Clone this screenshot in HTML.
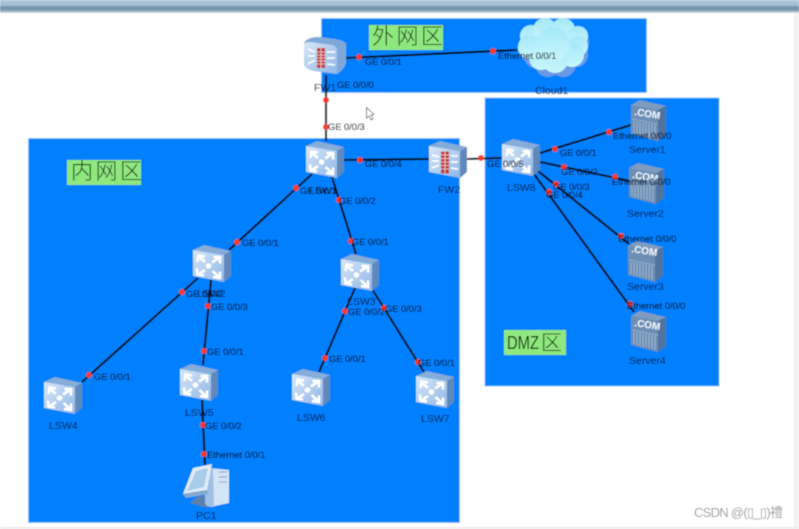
<!DOCTYPE html>
<html><head><meta charset="utf-8"><style>
html,body{margin:0;padding:0;background:#fff;width:799px;height:529px;overflow:hidden}
svg{display:block;position:absolute;left:0;top:0}
.t{font-family:"Liberation Sans",sans-serif;font-size:9.3px;fill:#050d1f;stroke:#050d1f;stroke-width:.12}
.d{font-family:"Liberation Sans",sans-serif;font-size:10.5px;fill:#08234f;stroke:#08234f;stroke-width:.1}
.c{font-family:"Noto Sans CJK SC","WenQuanYi Zen Hei",sans-serif;font-size:22px;fill:#111c11;font-weight:300}
.com{font-family:"Liberation Sans",sans-serif;font-size:10px;font-weight:bold;fill:#f2f7fc}
</style></head><body>
<svg width="799" height="529" viewBox="0 0 799 529" xmlns="http://www.w3.org/2000/svg">
<defs>
<filter id="b" x="-2%" y="-2%" width="104%" height="104%"><feGaussianBlur stdDeviation="0.4"/></filter>
<linearGradient id="bar" x1="0" y1="0" x2="0" y2="1"><stop offset="0" stop-color="#aac6d8"/><stop offset=".4" stop-color="#a6c0d2"/><stop offset=".55" stop-color="#6f90a8"/><stop offset=".8" stop-color="#7f9db3"/><stop offset="1" stop-color="#dfe8ee"/></linearGradient>
<linearGradient id="front" x1="0" y1="0" x2="1" y2="1"><stop offset="0" stop-color="#d6e7f9"/><stop offset="1" stop-color="#8fb6e6"/></linearGradient>
<linearGradient id="cl" x1="0" y1="0" x2="0" y2="1"><stop offset="0" stop-color="#a4e8f8"/><stop offset="1" stop-color="#c8f7fb"/></linearGradient>
<symbol id="sw" viewBox="0 0 38 37" width="38" height="37" overflow="visible">
<polygon points="0,5 11,0 38,6 31,10" fill="#86acd8"/>
<polygon points="31,10 38,6 38,31 31,37" fill="#5f89bd"/>
<polygon points="0,5 31,10 31,37 0,31" fill="url(#front)"/>
<circle cx="15.500" cy="21" r="2.800" fill="#fff"/>
<g stroke="#fff" stroke-width="2.600" fill="none">
<path d="M5,11 L12,17 M4.500,17 L5.500,10.500 L12,11.500"/>
<path d="M27,12 L19,17.500 M20.500,12 L27,12 L27,18.500"/>
<path d="M4.500,30 L12,25 M4,23.500 L4.500,29.500 L11,30.500"/>
<path d="M27,33 L19.500,26 M27,26.500 L27,33 L20,32"/>
</g>
</symbol>
<symbol id="fw" viewBox="0 0 38 37" width="38" height="37" overflow="visible">
<polygon points="0,5 11,0 38,6 31,10" fill="#86acd8"/>
<polygon points="31,10 38,6 38,31 31,37" fill="#5f89bd"/>
<polygon points="0,5 31,10 31,37 0,31" fill="url(#front)"/>
<rect x="12" y="10.500" width="8" height="22" fill="#c23b3b"/>
<path d="M12,14 H20 M12,17.500 H20 M12,21 H20 M12,24.500 H20 M12,28 H20 M16,10.500 V32.500" stroke="#f0d8d8" stroke-width=".8"/>
<g stroke="#fff" stroke-width="1.700"><path d="M3,14 L10,16 M3,20 L10,20 M3,27 L10,24 M22,15 L29,15 M22,21 L29,21 M22,27 L29,28"/></g>
</symbol>
<symbol id="fw1" viewBox="0 0 42 38" width="42" height="38" overflow="visible">
<path d="M0,8 Q0,3 7,1 Q12,-1 24,1 Q36,2 42,6 V26 Q40,33 33,37 L10,34 Q2,32 0,28 Z" fill="#7fa8da"/>
<path d="M0,8 Q0,5 6,5 L28,8 Q33,9 33,14 V37 L10,34 Q1,32 0,27 Z" fill="url(#front)"/>
<rect x="13" y="11" width="8" height="20" fill="#c23b3b"/>
<path d="M13,15 H21 M13,18 H21 M13,21 H21 M13,24 H21 M13,27 H21 M17,11 V31" stroke="#f0d8d8" stroke-width=".8"/>
<g stroke="#fff" stroke-width="1.600"><path d="M4,12 L11,15 M4,19 L11,19 M4,27 L11,23 M23,15 L31,15 M23,21 L31,21 M23,27 L31,28"/></g>
</symbol>
<symbol id="srv" viewBox="0 0 35 41" width="35" height="41" overflow="visible">
<polygon points="0,5 9,0 35,6 27,10" fill="#7f9cbf"/>
<polygon points="27,10 35,6 35,35 27,41" fill="#4f759f"/>
<polygon points="0,5 27,10 27,41 0,34" fill="#6d8fb5"/>
<g stroke="#9db5cf" stroke-width="1.100"><path d="M3,21 V33 M6,21.500 V34 M9,22 V35 M12,22.500 V36 M15,23 V36 M18,23.500 V37 M21,24 V38 M24,24.500 V39"/></g>
<path d="M1,19 L27,24" stroke="#9db5cf" stroke-width=".8"/>
</symbol>
</defs>
<g filter="url(#b)">
<rect x="0" y="0" width="799" height="529" fill="#fff"/>
<rect x="0" y="0" width="799" height="13" fill="url(#bar)"/>
<rect x="794" y="13" width="5" height="516" fill="#f2f2f2"/>
<rect x="0" y="527" width="799" height="2" fill="#ececec"/>

<g fill="#0080ff" stroke="#6fbaff" stroke-width=".8">
<rect x="321.500" y="18.500" width="325" height="74"/>
<rect x="485" y="98" width="234" height="288"/>
<rect x="28.500" y="138.500" width="431" height="384"/>
</g>

<rect x="369" y="25" width="74" height="25" fill="#8ee87e"/>
<text class="c" x="372" y="44" letter-spacing="2.500">外网区</text>
<rect x="67" y="160" width="74" height="25" fill="#8ee87e"/>
<text class="c" x="71" y="179" letter-spacing="2.500">内网区</text>
<rect x="504" y="330" width="62" height="25" fill="#8ee87e"/>
<text x="507" y="349" font-family="Liberation Sans,sans-serif" font-size="18px" fill="#0c1c0c" textLength="32" lengthAdjust="spacingAndGlyphs">DMZ</text>
<text class="c" x="541" y="350" style="font-size:21px">区</text>

<g stroke="#050a12" stroke-width="2.100" fill="none">
<path d="M326,75 V141"/>
<path d="M346,58 L517,50"/>
<path d="M344,160 L429,159"/>
<path d="M467,159 L502,158"/>
<path d="M312,174 L229,250"/>
<path d="M332,177 L356,254"/>
<path d="M198,278 L82,382"/>
<path d="M211,280 L203,365"/>
<path d="M355,288 L319,372"/>
<path d="M372,289 L424,372"/>
<path d="M202,400 L205,465"/>
<path d="M540,153 L631,125"/>
<path d="M540,162 L630,181"/>
<path d="M538,171 L629,244"/>
<path d="M534,174 L634,312"/>
</g>

<use href="#fw1" x="304" y="37"/>
<use href="#sw" x="306" y="141"/>
<use href="#sw" x="193" y="245"/>
<use href="#sw" x="341" y="254"/>
<use href="#sw" x="44" y="377"/>
<use href="#sw" x="180" y="364"/>
<use href="#sw" x="292" y="369"/>
<use href="#sw" x="416" y="371"/>
<use href="#sw" x="502" y="139"/>
<use href="#fw" x="429" y="141"/>

<g fill="#6a9ae6">
<circle cx="533" cy="48" r="15"/><circle cx="535" cy="58" r="10"/><circle cx="548" cy="64" r="13"/><circle cx="563" cy="64" r="13"/><circle cx="576" cy="55" r="12"/><circle cx="580" cy="42" r="9"/>
</g>
<g fill="url(#cl)">
<circle cx="531" cy="36" r="11"/><circle cx="545" cy="30" r="12"/><circle cx="563" cy="30" r="12"/><circle cx="578" cy="36" r="10"/><circle cx="578" cy="46" r="10"/><circle cx="572" cy="55" r="12"/><circle cx="555" cy="60" r="13"/><circle cx="541" cy="58" r="12"/><circle cx="530" cy="47" r="12"/><circle cx="553" cy="44" r="17"/>
</g>

<use href="#srv" x="631" y="100"/>
<text class="com" transform="translate(634,115) rotate(9)" textLength="26">.COM</text>
<use href="#srv" x="629" y="163"/>
<text class="com" transform="translate(632,178) rotate(9)" textLength="26">.COM</text>
<use href="#srv" x="628" y="241"/>
<text class="com" transform="translate(631,252) rotate(9)" textLength="26">.COM</text>
<use href="#srv" x="631" y="311"/>
<text class="com" transform="translate(634,326) rotate(9)" textLength="26">.COM</text>

<g>
<polygon points="210,468 229,470 229,503 210,507" fill="#d3e4f5"/>
<polygon points="205,469 213,468 214,507 205,506" fill="#9fc0e2"/>
<path d="M219,472 H227 M219,477 H227 M219,482 H227" stroke="#7ea2c8" stroke-width="1"/>
<polygon points="193,468 212,464 207,490 183,494" fill="#e0ecf8"/>
<polygon points="196,471 208,468 204,487 187,491" fill="#a8cbe8"/>
<polygon points="183,494 207,490 208,494 186,498" fill="#86a9cd"/>
<polygon points="197,497 204,495 205,503 208,508 190,503" fill="#5c80ac"/>
</g>

<path d="M366.500,107.500 V118 L369,116 L371,120 L373,119 L371,115 L374,114.500 Z" fill="#fff" stroke="#333" stroke-width=".7"/>

<g fill="#f23c2e">
<circle cx="359" cy="57" r="3"/><circle cx="493" cy="51" r="3"/><circle cx="326" cy="100" r="3"/><circle cx="326" cy="127" r="3"/>
<circle cx="360" cy="160" r="3"/><circle cx="296" cy="188" r="3"/><circle cx="339" cy="200" r="3"/><circle cx="237" cy="242" r="3"/>
<circle cx="351" cy="241" r="3"/><circle cx="182" cy="292" r="3"/><circle cx="208" cy="306" r="3"/><circle cx="204" cy="351" r="3"/>
<circle cx="89" cy="375" r="3"/><circle cx="203" cy="425" r="3"/><circle cx="204" cy="454" r="3"/><circle cx="345" cy="311" r="3"/>
<circle cx="384" cy="308" r="3"/><circle cx="325" cy="358" r="3"/><circle cx="418" cy="362" r="3"/><circle cx="481" cy="158" r="3"/>
<circle cx="555" cy="149" r="3"/><circle cx="609" cy="132" r="3"/><circle cx="564" cy="167" r="3"/><circle cx="615" cy="177" r="3"/>
<circle cx="556" cy="184" r="3"/><circle cx="549" cy="192" r="3"/><circle cx="621" cy="236" r="3"/><circle cx="630" cy="304" r="3"/>
</g>

<text class="d" x="314" y="91">FW1</text>
<text class="d" x="309" y="194">LSW1</text>
<text class="d" x="197" y="297">LSW2</text>
<text class="d" x="347" y="305">LSW3</text>
<text class="d" x="49" y="429">LSW4</text>
<text class="d" x="185" y="416">LSW5</text>
<text class="d" x="297" y="421">LSW6</text>
<text class="d" x="421" y="422">LSW7</text>
<text class="d" x="507" y="191">LSW8</text>
<text class="d" x="438" y="193">FW2</text>
<text class="d" x="535" y="94">Cloud1</text>
<text class="d" x="629" y="153">Server1</text>
<text class="d" x="627" y="217">Server2</text>
<text class="d" x="627" y="290">Server3</text>
<text class="d" x="629" y="364">Server4</text>
<text class="d" x="196" y="519">PC1</text>

<text class="t" x="365" y="65">GE 0/0/1</text>
<text class="t" x="337" y="88">GE 0/0/0</text>
<text class="t" x="328" y="130">GE 0/0/3</text>
<text class="t" x="365" y="167">GE 0/0/4</text>
<text class="t" x="300" y="194">GE 0/0/1</text>
<text class="t" x="339" y="204">GE 0/0/2</text>
<text class="t" x="242" y="246">GE 0/0/1</text>
<text class="t" x="352" y="245">GE 0/0/1</text>
<text class="t" x="186" y="297">GE 0/0/2</text>
<text class="t" x="211" y="310">GE 0/0/3</text>
<text class="t" x="207" y="355">GE 0/0/1</text>
<text class="t" x="94" y="380">GE 0/0/1</text>
<text class="t" x="205" y="429">GE 0/0/2</text>
<text class="t" x="207" y="458">Ethernet 0/0/1</text>
<text class="t" x="329" y="362">GE 0/0/1</text>
<text class="t" x="348" y="315">GE 0/0/2</text>
<text class="t" x="385" y="312">GE 0/0/3</text>
<text class="t" x="418" y="366">GE 0/0/1</text>
<text class="t" x="498" y="59">Ethernet 0/0/1</text>
<text class="t" x="487" y="167">GE 0/0/5</text>
<text class="t" x="560" y="156">GE 0/0/1</text>
<text class="t" x="613" y="139">Ethernet 0/0/0</text>
<text class="t" x="561" y="175">GE 0/0/2</text>
<text class="t" x="612" y="185">Ethernet 0/0/0</text>
<text class="t" x="553" y="190">GE 0/0/3</text>
<text class="t" x="546" y="198">GE 0/0/4</text>
<text class="t" x="618" y="242">Ethernet 0/0/0</text>
<text class="t" x="627" y="309">Ethernet 0/0/0</text>

<text x="694" y="517" font-family="Liberation Sans,'Noto Sans CJK SC',sans-serif" font-size="13px" fill="#9a9a9a" textLength="89">CSDN @(▯_▯)禮</text>
</g>
</svg>
</body></html>
